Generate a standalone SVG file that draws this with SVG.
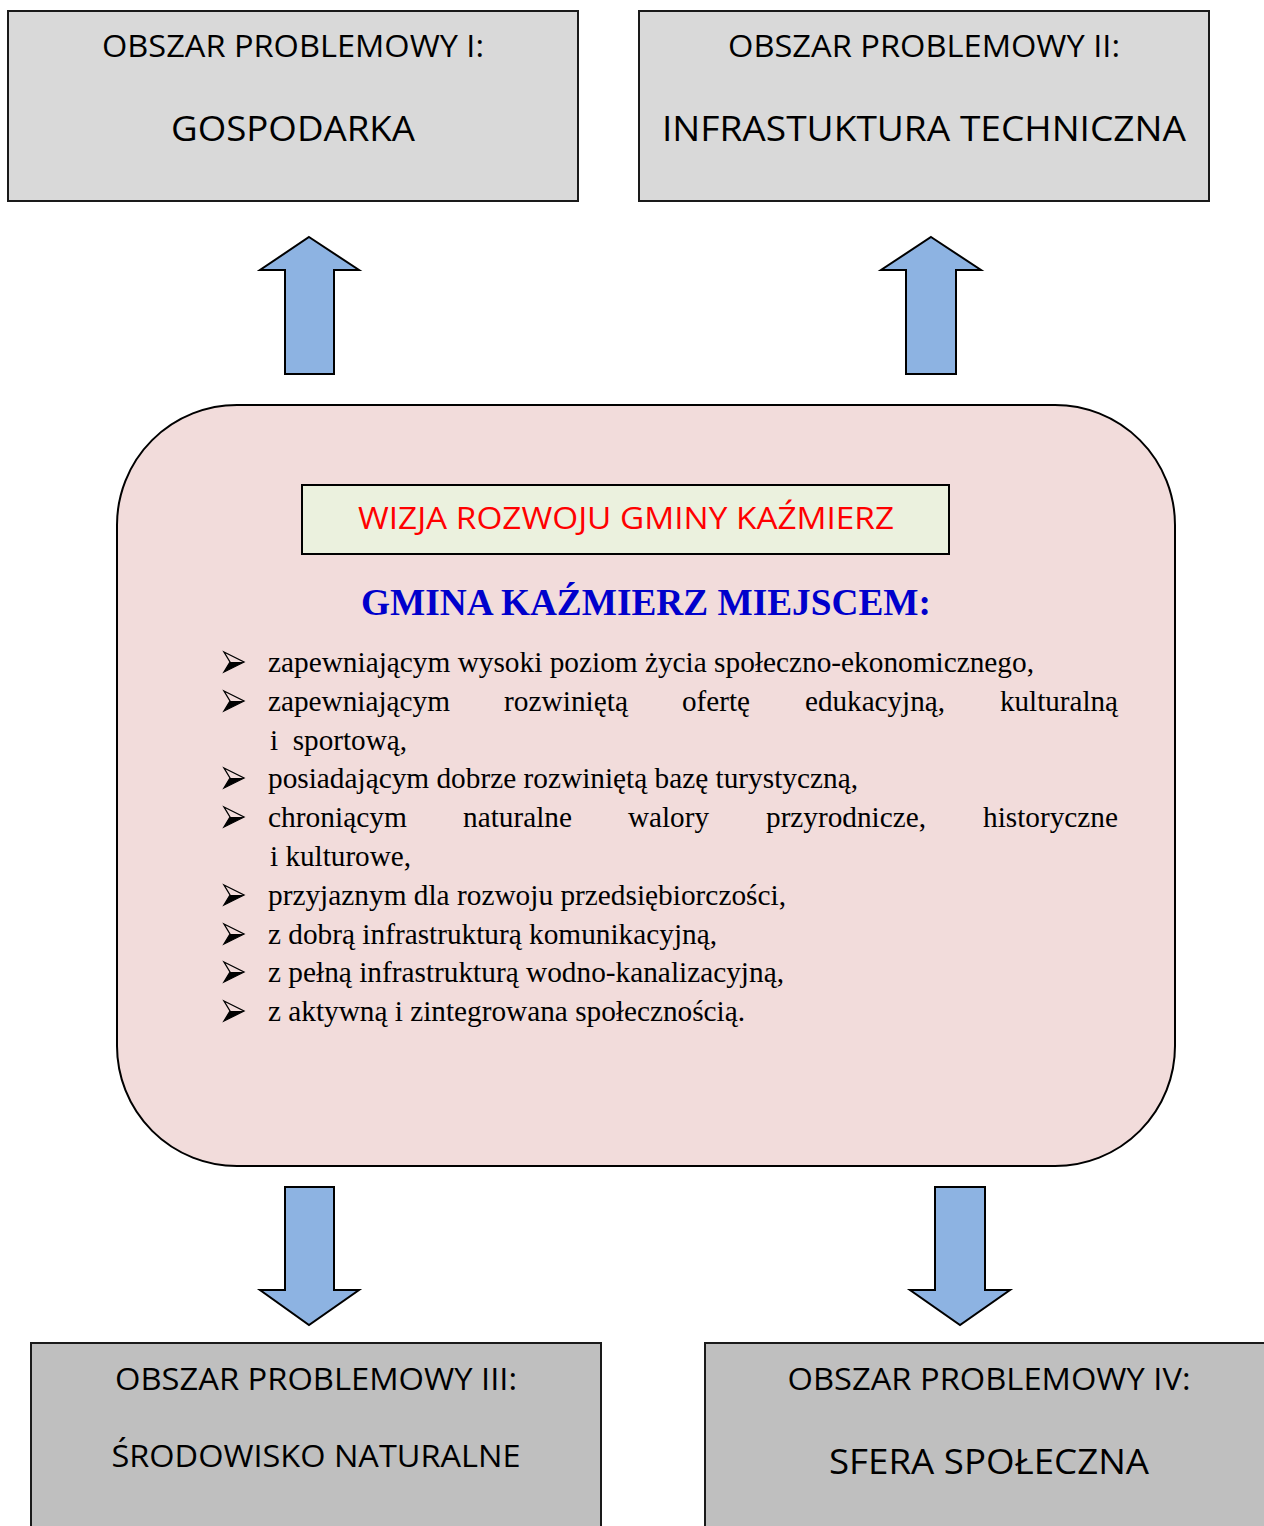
<svg xmlns="http://www.w3.org/2000/svg" xmlns:xlink="http://www.w3.org/1999/xlink" width="1264" height="1526" viewBox="0 0 1264 1526">
<style>
.box1{fill:#d9d9d9;stroke:#1a1a1a;stroke-width:2}
.box2{fill:#bfbfbf;stroke:#1a1a1a;stroke-width:2}
.arrow{fill:#8db3e2;stroke:#000;stroke-width:2;stroke-linejoin:miter}
.hd{font-family:"Open Sans","Noto Sans","Liberation Sans",sans-serif;fill:#000;text-anchor:middle}
.s1{font-size:31.5px}
.s2{font-size:34px}
.bl{font-family:"Liberation Serif","Times New Roman",serif;font-size:29.5px;fill:#000}
</style>
<defs>
<g id="bullet">
<path d="M0,0 L20,10 L0,20 L6,10 Z" fill="none" stroke="#000" stroke-width="1.3" stroke-linejoin="miter"/>
<path d="M0,20 L20,10 L6,10 Z" fill="#000"/>
</g>
</defs>
<rect width="1264" height="1526" fill="#fff"/>

<g id="box-I">
<rect class="box1" x="8" y="11" width="570" height="190"/>
<text class="hd s1" x="293" y="57" textLength="382" lengthAdjust="spacingAndGlyphs">OBSZAR PROBLEMOWY I:</text>
<text class="hd s2" x="293" y="141" textLength="244" lengthAdjust="spacingAndGlyphs">GOSPODARKA</text>
</g>

<g id="box-II">
<rect class="box1" x="639" y="11" width="570" height="190"/>
<text class="hd s1" x="924" y="57" textLength="392" lengthAdjust="spacingAndGlyphs">OBSZAR PROBLEMOWY II:</text>
<text class="hd s2" x="924" y="141" textLength="524" lengthAdjust="spacingAndGlyphs">INFRASTUKTURA TECHNICZNA</text>
</g>

<g id="box-III">
<rect class="box2" x="31" y="1343" width="570" height="200"/>
<text class="hd s1" x="316" y="1390" textLength="402" lengthAdjust="spacingAndGlyphs">OBSZAR PROBLEMOWY III:</text>
<text class="hd s1" x="316" y="1467" textLength="409" lengthAdjust="spacingAndGlyphs">ŚRODOWISKO NATURALNE</text>
</g>

<g id="box-IV">
<rect class="box2" x="705" y="1343" width="580" height="200"/>
<text class="hd s1" x="989" y="1390" textLength="403" lengthAdjust="spacingAndGlyphs">OBSZAR PROBLEMOWY IV:</text>
<text class="hd s2" x="989" y="1474" textLength="320" lengthAdjust="spacingAndGlyphs">SFERA SPOŁECZNA</text>
</g>

<g id="connectors">
<path class="arrow" d="M309,237 L359,270 L334,270 L334,374 L285,374 L285,270 L260,270 Z"/>
<path class="arrow" d="M931,237 L981,270 L956,270 L956,374 L906,374 L906,270 L881,270 Z"/>
<path class="arrow" d="M285,1187 L334,1187 L334,1290 L359,1290 L309,1325 L260,1290 L285,1290 Z"/>
<path class="arrow" d="M935,1187 L985,1187 L985,1290 L1010,1290 L960,1325 L910,1290 L935,1290 Z"/>
</g>

<g id="vision">
<rect x="117" y="405" width="1058" height="761" rx="120" ry="120" fill="#f2dcdb" stroke="#000" stroke-width="2"/>
<g id="vision-title">
<rect x="302" y="485" width="647" height="69" fill="#ebf1de" stroke="#000" stroke-width="2"/>
<text class="hd" x="626" y="529" font-size="31.5" style="fill:#ff0000" textLength="536" lengthAdjust="spacingAndGlyphs">WIZJA ROZWOJU GMINY KAŹMIERZ</text>
</g>
<text x="646" y="615" font-family="'Liberation Serif','Times New Roman',serif" font-size="37" font-weight="bold" fill="#0000cc" text-anchor="middle" textLength="570" lengthAdjust="spacingAndGlyphs">GMINA KAŹMIERZ MIEJSCEM:</text>

<use xlink:href="#bullet" x="224" y="652"/>
<use xlink:href="#bullet" x="224" y="691"/>
<use xlink:href="#bullet" x="224" y="768"/>
<use xlink:href="#bullet" x="224" y="807"/>
<use xlink:href="#bullet" x="224" y="885"/>
<use xlink:href="#bullet" x="224" y="924"/>
<use xlink:href="#bullet" x="224" y="962"/>
<use xlink:href="#bullet" x="224" y="1001"/>

<text class="bl" x="268" y="672" textLength="766" lengthAdjust="spacingAndGlyphs">zapewniającym wysoki poziom życia społeczno-ekonomicznego,</text>
<text class="bl" x="268" y="711" textLength="182" lengthAdjust="spacingAndGlyphs">zapewniającym</text>
<text class="bl" x="504" y="711" textLength="124" lengthAdjust="spacingAndGlyphs">rozwiniętą</text>
<text class="bl" x="682" y="711" textLength="68" lengthAdjust="spacingAndGlyphs">ofertę</text>
<text class="bl" x="805" y="711" textLength="140" lengthAdjust="spacingAndGlyphs">edukacyjną,</text>
<text class="bl" x="1000" y="711" textLength="118" lengthAdjust="spacingAndGlyphs">kulturalną</text>
<text class="bl" x="270" y="750" xml:space="preserve" textLength="137" lengthAdjust="spacingAndGlyphs">i  sportową,</text>
<text class="bl" x="268" y="788" textLength="590" lengthAdjust="spacingAndGlyphs">posiadającym dobrze rozwiniętą bazę turystyczną,</text>
<text class="bl" x="268" y="827" textLength="139" lengthAdjust="spacingAndGlyphs">chroniącym</text>
<text class="bl" x="463" y="827" textLength="109" lengthAdjust="spacingAndGlyphs">naturalne</text>
<text class="bl" x="628" y="827" textLength="81" lengthAdjust="spacingAndGlyphs">walory</text>
<text class="bl" x="766" y="827" textLength="160" lengthAdjust="spacingAndGlyphs">przyrodnicze,</text>
<text class="bl" x="983" y="827" textLength="135" lengthAdjust="spacingAndGlyphs">historyczne</text>
<text class="bl" x="270" y="866" textLength="141" lengthAdjust="spacingAndGlyphs">i kulturowe,</text>
<text class="bl" x="268" y="905" textLength="518" lengthAdjust="spacingAndGlyphs">przyjaznym dla rozwoju przedsiębiorczości,</text>
<text class="bl" x="268" y="944" textLength="449" lengthAdjust="spacingAndGlyphs">z dobrą infrastrukturą komunikacyjną,</text>
<text class="bl" x="268" y="982" textLength="516" lengthAdjust="spacingAndGlyphs">z pełną infrastrukturą wodno-kanalizacyjną,</text>
<text class="bl" x="268" y="1021" textLength="477" lengthAdjust="spacingAndGlyphs">z aktywną i zintegrowana społecznością.</text>
</g>
</svg>
